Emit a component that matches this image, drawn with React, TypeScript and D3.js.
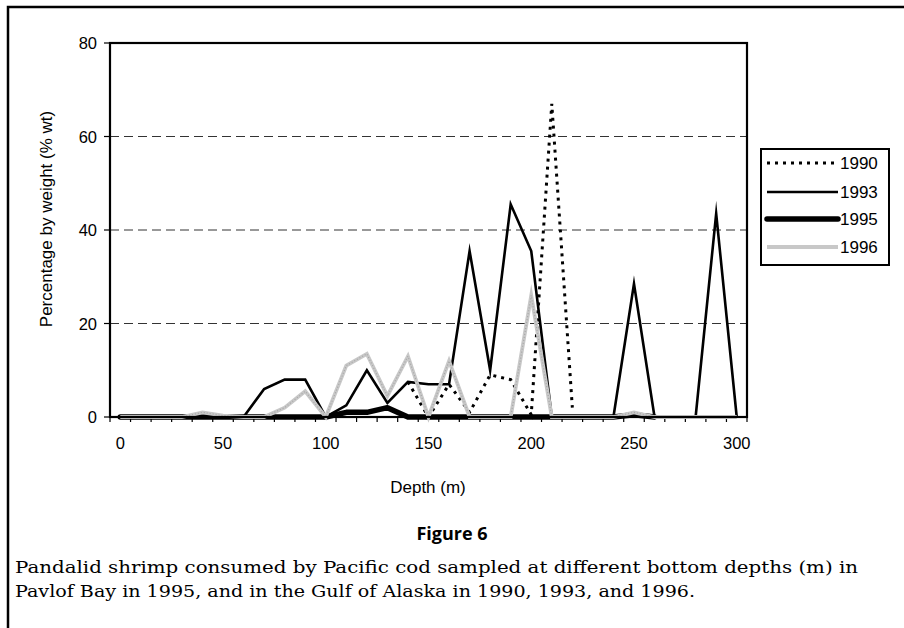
import { useEffect, useRef } from 'react'
import * as d3 from 'd3'

// depth categories (m), Excel-style category axis
const depths = [0, 10, 20, 30, 40, 50, 60, 70, 80, 90, 100, 110, 120, 130, 140, 150,
  160, 170, 180, 190, 200, 210, 220, 230, 240, 250, 260, 270, 280, 290, 300]

const y1990: (number | null)[] = [null, null, null, null, null, null, null, null, null, null,
  null, null, null, null, 7.5, 0, 7, 1, 9, 8, 0.5, 67, 2, null, null, null, null, null, null, null, null]
const y1993: (number | null)[] = [0, 0, 0, 0, 0, 0, 0, 6, 8, 8, 0, 2.5, 10, 3, 7.5, 7, 7, 35.5,
  10, 45.5, 35.5, 0, 0, 0, 0, 28.5, 0, 0, 0, 43.5, 0]
const y1995: (number | null)[] = [0, 0, 0, 0, 0, 0, 0, 0, 0, 0, 0, 1, 1, 2, 0, 0, 0, 0, 0, 0,
  0, 0, 0, 0, 0, 0.5, 0, null, null, null, null]
const y1996: (number | null)[] = [0, 0, 0, 0, 1, 0.3, 0, 0, 2, 5.5, 0, 11, 13.5, 4.5, 13, 0, 12,
  0, 0, 0, 26, 0, 0, 0, 0, 1, 0, 0, 0, 0, 0]

const yTicks = [0, 20, 40, 60, 80]
const xLabels = [0, 50, 100, 150, 200, 250, 300]

const seriesNames = ['1990', '1993', '1995', '1996']
const seriesValues = [y1990, y1993, y1995, y1996]

const captionLines = [
  'Pandalid shrimp consumed by Pacific cod sampled at different bottom depths (m) in',
  'Pavlof Bay in 1995, and in the Gulf of Alaska in 1990, 1993, and 1996.',
]

const sans = '"Liberation Sans", Arial, sans-serif'

export default function App() {
  const svgRef = useRef<SVGSVGElement>(null)

  useEffect(() => {
    if (!svgRef.current) return
    const svg = d3.select(svgRef.current)
    svg.selectAll('*').remove()

    const left = 110, right = 747, top = 43, bottom = 417

    const x = d3.scaleBand<number>().domain(depths).range([left, right]).padding(0)
    const y = d3.scaleLinear().domain([0, 80]).range([bottom, top])
    const cx = (d: number) => x(d)! + x.bandwidth() / 2

    // page frame
    svg.append('path')
      .attr('d', 'M8,628 L8,7 L904,7')
      .attr('fill', 'none').attr('stroke', '#000').attr('stroke-width', 2.5)

    // gridlines
    svg.append('g').selectAll('line')
      .data(yTicks.filter(t => t > 0 && t < 80))
      .enter().append('line')
      .attr('x1', left).attr('x2', right)
      .attr('y1', d => y(d)).attr('y2', d => y(d))
      .attr('stroke', '#333').attr('stroke-width', 1)
      .attr('stroke-dasharray', '9,5')

    // y ticks and labels
    svg.append('g').selectAll('line')
      .data(yTicks).enter().append('line')
      .attr('x1', left - 6).attr('x2', left)
      .attr('y1', d => y(d)).attr('y2', d => y(d))
      .attr('stroke', '#000').attr('stroke-width', 1.2)
    svg.append('g').selectAll('text')
      .data(yTicks).enter().append('text')
      .attr('x', 97).attr('y', d => y(d) + 6)
      .attr('text-anchor', 'end')
      .attr('font-family', sans).attr('font-size', 16.5)
      .text(d => d)

    // x ticks at category boundaries
    const bounds = depths.map(d => x(d)!).concat([right])
    svg.append('g').selectAll('line')
      .data(bounds).enter().append('line')
      .attr('x1', d => d).attr('x2', d => d)
      .attr('y1', bottom).attr('y2', bottom + 5)
      .attr('stroke', '#000').attr('stroke-width', 1.2)
    svg.append('g').selectAll('text')
      .data(xLabels).enter().append('text')
      .attr('x', d => cx(d)).attr('y', 449)
      .attr('text-anchor', 'middle')
      .attr('font-family', sans).attr('font-size', 16.5)
      .text(d => d)

    // series lines
    const styles = [
      { stroke: '#000', width: 3, dash: '3,5', join: 'miter', cap: 'butt' },
      { stroke: '#000', width: 2.6, dash: null, join: 'miter', cap: 'butt' },
      { stroke: '#000', width: 5.5, dash: null, join: 'round', cap: 'round' },
      { stroke: '#c8c8c8', width: 3.8, dash: null, join: 'miter', cap: 'butt' },
    ]
    const line = d3.line<number | null>()
      .defined(v => v !== null)
      .x((_, i) => cx(depths[i]))
      .y(v => y(v as number))

    seriesValues.forEach((vals, i) => {
      const s = styles[i]
      const p = svg.append('path')
        .attr('d', line(vals)!)
        .attr('fill', 'none')
        .attr('stroke', s.stroke)
        .attr('stroke-width', s.width)
        .attr('stroke-linejoin', s.join)
        .attr('stroke-linecap', s.cap)
        .attr('stroke-miterlimit', 10)
      if (s.dash) p.attr('stroke-dasharray', s.dash)
      if (i === 3) {
        // speckled texture of the grey series
        svg.append('path')
          .attr('d', line(vals)!)
          .attr('fill', 'none')
          .attr('stroke', '#888')
          .attr('stroke-width', 1.2)
          .attr('stroke-dasharray', '1,2')
          .attr('opacity', 0.5)
      }
    })

    // plot area frame
    svg.append('rect')
      .attr('x', left).attr('y', top)
      .attr('width', right - left).attr('height', bottom - top)
      .attr('fill', 'none').attr('stroke', '#000').attr('stroke-width', 2.2)

    // axis titles
    svg.append('text')
      .attr('transform', 'translate(52,219) rotate(-90)')
      .attr('text-anchor', 'middle')
      .attr('font-family', sans).attr('font-size', 17)
      .text('Percentage by weight (% wt)')
    svg.append('text')
      .attr('x', 428).attr('y', 493)
      .attr('text-anchor', 'middle')
      .attr('font-family', sans).attr('font-size', 17)
      .text('Depth (m)')

    // legend
    const lg = svg.append('g')
    lg.append('rect')
      .attr('x', 761).attr('y', 149).attr('width', 128).attr('height', 116)
      .attr('fill', '#fff').attr('stroke', '#000').attr('stroke-width', 2)
    const rowY = [163, 192, 219, 247]
    seriesNames.forEach((name, i) => {
      const s = styles[i]
      const l = lg.append('line')
        .attr('x1', 767).attr('x2', 838)
        .attr('y1', rowY[i]).attr('y2', rowY[i])
        .attr('stroke', s.stroke).attr('stroke-width', s.width)
        .attr('stroke-linecap', s.cap)
      if (s.dash) l.attr('stroke-dasharray', s.dash)
      lg.append('text')
        .attr('x', 840).attr('y', rowY[i] + 6)
        .attr('font-family', sans).attr('font-size', 17)
        .text(name)
    })

    // figure caption
    svg.append('text')
      .attr('x', 452).attr('y', 540)
      .attr('text-anchor', 'middle')
      .attr('font-family', '"Open Sans", "DejaVu Sans", sans-serif')
      .attr('font-weight', 'bold').attr('font-size', 18)
      .text('Figure 6')
    svg.append('g').selectAll('text')
      .data(captionLines).enter().append('text')
      .attr('x', 15).attr('y', (_, i) => 573 + i * 24)
      .attr('font-family', '"DejaVu Serif", "Liberation Serif", serif')
      .attr('font-size', 16)
      .attr('textLength', (_, i) => (i === 0 ? 843 : 680))
      .attr('lengthAdjust', 'spacingAndGlyphs')
      .text(d => d)
  }, [])

  return (
    <svg ref={svgRef} width={904} height={628}
      style={{ position: 'absolute', left: 0, top: 0, background: '#fff' }} />
  )
}
